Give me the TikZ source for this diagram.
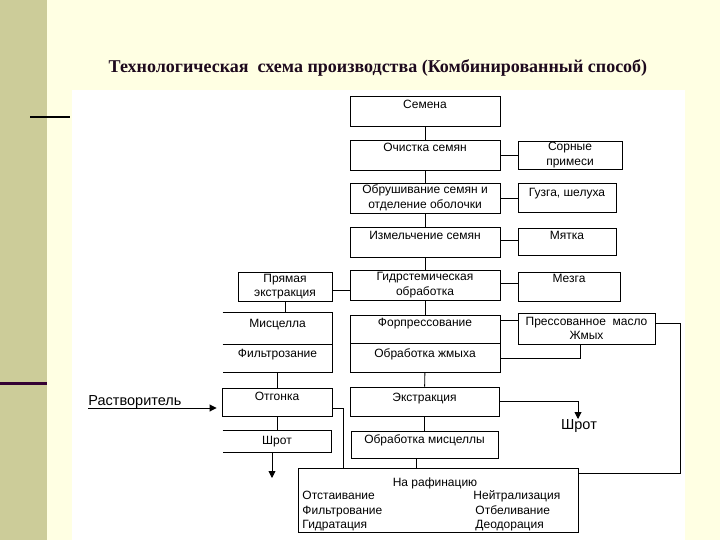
\documentclass[tikz,border=0pt]{standalone}
\usepackage{fontspec}
\setmainfont{Liberation Sans}
\newfontfamily\titlefont{Liberation Serif}
\usetikzlibrary{arrows.meta}
\definecolor{bgyellow}{HTML}{FFFFE3}
\definecolor{stripe}{HTML}{CCCC99}
\definecolor{darkpurple}{HTML}{330033}
\definecolor{titlecol}{HTML}{1E0A1E}
\tikzset{
  box/.style={draw, inner sep=0pt, font=\fontsize{12}{14.5}\selectfont},
  openbox/.style={inner sep=0pt, font=\fontsize{12}{14.5}\selectfont},
  two/.style={align=center},
  txt/.style={inner sep=0pt, font=\fontsize{12}{14.5}\selectfont},
  bigtxt/.style={inner sep=0pt, font=\fontsize{14.5}{16}\selectfont},
  arr/.style={-{Triangle[length=7pt,width=7pt]}},
  conn/.style={line width=0.9pt}
}
\begin{document}
\begin{tikzpicture}[x=1pt,y=-1pt,line width=0.9pt]
\useasboundingbox (0,0) rectangle (720,540);
\fill[bgyellow] (0,0) rectangle (720,540);
\fill[stripe] (0,0) rectangle (47,540);
\fill[white] (72,90) rectangle (685,540);
\draw[line width=2pt,black] (30,117.5) -- (70,117.5);
\fill[darkpurple] (0,381.5) rectangle (47,385);

\node[text=titlecol, font=\titlefont\bfseries\fontsize{18}{20}\selectfont] (title) at (378,68) {Технологическая\ \ схема производства (Комбинированный способ)};

% central column
\node[box, minimum width=150pt, text height=12.5pt, text depth=17.5pt] (semena) at (425,111) {Семена};
\node[box, minimum width=150pt, text height=11.5pt, text depth=18.5pt] (ochistka) at (425,155) {Очистка семян};
\node[box, two, minimum width=150pt, minimum height=30pt] (obrush) at (425,198) {Обрушивание семян и\\отделение оболочки};
\node[box, minimum width=150pt, text height=12.5pt, text depth=17.5pt] (izmel) at (425,242) {Измельчение семян};
\node[box, two, minimum width=150pt, minimum height=30pt] (gidr) at (425,285) {Гидрстемическая\\обработка};
\node[box, minimum width=150pt, text height=11.5pt, text depth=16.5pt] (forpress) at (425,329) {Форпрессование};
\node[box, minimum width=150pt, text height=14.5pt, text depth=14.5pt] (obrzhm) at (425,357.5) {Обработка жмыха};
\node[box, minimum width=149pt, text height=14.5pt, text depth=14.5pt] (extr) at (424.5,401.5) {Экстракция};
\node[box, minimum width=147pt, text height=12.5pt, text depth=14.5pt] (obrmisc) at (424.5,444.5) {Обработка мисцеллы};

% right column
\node[box, two, minimum width=104pt, minimum height=28pt] (sornye) at (570,155) {Сорные\\примеси};
\node[box, minimum width=98pt, text height=13.5pt, text depth=15.5pt] (guzga) at (567,197.5) {Гузга, шелуха};
\node[box, minimum width=98pt, text height=11.5pt, text depth=15.5pt] (myatka) at (567,241.5) {Мятка};
\node[box, minimum width=102pt, text height=10.5pt, text depth=18.5pt] (mezga) at (569,286.5) {Мезга};
\node[box, two, minimum width=137pt, minimum height=31pt] (press) at (586.5,328.5) {Прессованное\ \ масло\\Жмых};

% left column
\node[box, two, minimum width=94pt, minimum height=29pt] (pryam) at (285,286.5) {Прямая\\экстракция};
\node[openbox, minimum width=109pt, text height=14.5pt, text depth=16.5pt] (misc) at (277.5,328.5) {Мисцелла};
\node[openbox, minimum width=109pt, text height=13.5pt, text depth=14.5pt] (filtr) at (277.5,358) {Фильтрозание};
\draw (misc.north west) -- (misc.north east) -- (filtr.south east) -- (filtr.south west);
\draw (misc.south west) -- (misc.south east);
\node[box, minimum width=110pt, text height=12.5pt, text depth=15.5pt] (otgonka) at (277,402) {Отгонка};
\node[openbox, minimum width=108pt, text height=13.5pt, text depth=7.5pt] (shrot) at (277,441.5) {Шрот};
\draw (shrot.north west) -- (shrot.north east) -- (shrot.south east) -- (shrot.south west);

% bottom box
\node[draw, inner sep=0pt, minimum width=280pt, minimum height=64pt] (bottom) at (438,500) {};
\node[txt] (raf) at (435,483) {На рафинацию};
\node[txt, anchor=base west] (l1) at (302,499.5) {Отстаивание};
\node[txt, anchor=base west] (l2) at (302,514.5) {Фильтрование};
\node[txt, anchor=base west] (l3) at (302,528.5) {Гидратация};
\node[txt, anchor=base west] (r1) at (473,499.5) {Нейтрализация};
\node[txt, anchor=base west] (r2) at (475,514.5) {Отбеливание};
\node[txt, anchor=base west] (r3) at (475,528.5) {Деодорация};

% free labels
\node[bigtxt, anchor=base west] (rastv) at (88,405) {Растворитель};
\node[bigtxt] (shrot2) at (579,426) {Шрот};

% coordinates
\coordinate (rs) at (88,408);
\coordinate (rtop) at (680,323);
\coordinate (rbot) at (680,473);
\coordinate (zh) at (580,358);
\coordinate (exs) at (578,419);
\coordinate (og) at (343,408);
\coordinate (sa) at (272,478);

% vertical main flow
\draw (semena) -- (ochistka);
\draw (ochistka) -- (obrush);
\draw (obrush) -- (izmel);
\draw (izmel) -- (gidr);
\draw (gidr) -- (forpress);
\draw (obrzhm) -- (extr);
\draw (extr) -- (obrmisc);
\draw ([xshift=-8.5pt]obrmisc.south) -- ([xshift=-8.5pt]obrmisc.south |- bottom.north);

% side links
\draw (ochistka.east) -- (ochistka.east -| sornye.west);
\draw (obrush.east) -- (obrush.east -| guzga.west);
\draw ([yshift=2pt]izmel.east) -- ([yshift=2pt]izmel.east -| myatka.west);
\draw ([yshift=2pt]gidr.east) -- ([yshift=2pt]gidr.east -| mezga.west);
\draw ([yshift=-5pt]gidr.west) -- ([yshift=-5pt]gidr.west -| pryam.east);
\draw ([yshift=9pt]forpress.east) -- ([yshift=9pt]forpress.east -| press.west);

% left flow
\draw (pryam.south) -- (pryam.south |- misc.north);
\draw (filtr.south) -- (filtr.south |- otgonka.north);
\draw (otgonka.south) -- (otgonka.south |- shrot.north);
\draw[arr] (shrot.south -| sa) -- (sa);
\draw[arr, shorten >=5pt] (rs) -- ([yshift=-6pt]otgonka.west);
\draw ([yshift=-6pt]otgonka.east) -| (og |- bottom.north);

% right loops
\draw ([yshift=5.5pt]press.east) -- (rtop) -- (rbot) -- (rbot -| bottom.east);
\draw (press.south -| zh) -- (zh) -- (zh -| obrzhm.east);
\draw[arr] (extr.east) -| (exs);
\end{tikzpicture}
\end{document}
